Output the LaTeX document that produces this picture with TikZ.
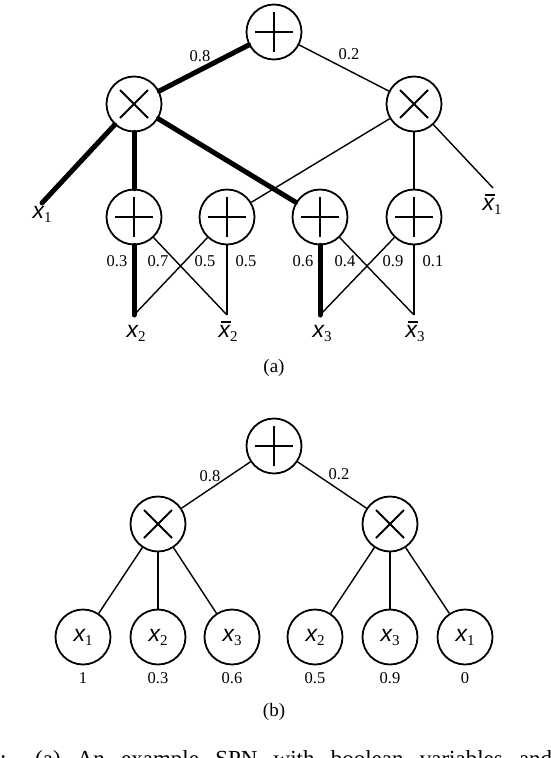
\documentclass[tikz,border=0pt]{standalone}
\usepackage{fontspec}
\setmainfont{Liberation Serif}
\newfontfamily\varfont{Liberation Sans}

\newcommand{\lit}[1]{{\varfont\itshape x}\raisebox{-4pt}{\fontsize{15}{15}\selectfont #1}}
\newcommand{\nlit}[1]{{\varfont\itshape\makebox[0pt][l]{\hspace{2.5pt}\rule[14.5pt]{10pt}{1.8pt}}x}\raisebox{-4pt}{\fontsize{15}{15}\selectfont #1}}

\tikzset{
    op/.style={circle, draw, line width=1.8pt, inner sep=0pt, minimum size=55pt},
    sumnode/.style={op, path picture={
        \draw[line width=1.8pt] ([xshift=-19pt]path picture bounding box.center) -- ([xshift=19pt]path picture bounding box.center)
            ([yshift=-20pt]path picture bounding box.center) -- ([yshift=20pt]path picture bounding box.center);}},
    prodnode/.style={op, path picture={
        \draw[line width=1.8pt] ([shift={(-14pt,-14pt)}]path picture bounding box.center) -- ([shift={(14pt,14pt)}]path picture bounding box.center)
            ([shift={(-14pt,14pt)}]path picture bounding box.center) -- ([shift={(14pt,-14pt)}]path picture bounding box.center);}},
    leafnode/.style={op, font=\fontsize{23}{23}\selectfont},
    litlabel/.style={inner sep=0pt, anchor=north, font=\fontsize{23}{23}\selectfont},
    wt/.style={inner sep=0pt, font=\fontsize{16.5}{16.5}\selectfont},
    sublabel/.style={inner sep=0pt, font=\fontsize{19}{19}\selectfont},
    light/.style={line width=1.4pt},
    heavy/.style={line width=5pt, line cap=round}
}

\begin{document}
\begin{tikzpicture}[x=1pt,y=-1pt]
\useasboundingbox (0,0) rectangle (550,758);

% (a)
\node[sumnode] (a0) at (274,32) {};
\node[prodnode] (ap1) at (134,104) {};
\node[prodnode] (ap2) at (414,104) {};
\node[sumnode] (as1) at (134,217) {};
\node[sumnode] (as2) at (227,217) {};
\node[sumnode] (as3) at (320,217) {};
\node[sumnode] (as4) at (414,217) {};

\coordinate (ax1) at (42,203);
\coordinate (anx1) at (493,188);
\coordinate (ax2) at (134,315);
\coordinate (anx2) at (227,315);
\coordinate (ax3) at (320,315);
\coordinate (anx3) at (414,315);

\node[litlabel] (lx1) at (42,206) {\lit{1}};
\node[litlabel] (lnx1) at (492,194) {\nlit{1}};
\node[litlabel] (lx2) at (136,325) {\lit{2}};
\node[litlabel] (lnx2) at (228,321) {\nlit{2}};
\node[litlabel] (lx3) at (322,325) {\lit{3}};
\node[litlabel] (lnx3) at (415,321) {\nlit{3}};

\draw[heavy] (a0) -- (ap1);
\draw[light] (a0) -- (ap2);
\draw[heavy] (ap1) -- (ax1);
\draw[heavy] (ap1) -- (as1);
\draw[heavy] (ap1) -- (as3);
\draw[light] (ap2) -- (as2);
\draw[light] (ap2) -- (as4);
\draw[light] (ap2) -- (anx1);
\draw[heavy] (as1) -- (ax2);
\draw[light] (as1) -- (anx2);
\draw[light] (as2) -- (ax2);
\draw[light] (as2) -- (anx2);
\draw[heavy] (as3) -- (ax3);
\draw[light] (as3) -- (anx3);
\draw[light] (as4) -- (ax3);
\draw[light] (as4) -- (anx3);

\node[wt] (aw1) at (200,56) {0.8};
\node[wt] (aw2) at (349,54) {0.2};
\node[wt] (aw3) at (117,261) {0.3};
\node[wt] (aw4) at (158,261) {0.7};
\node[wt] (aw5) at (205,261) {0.5};
\node[wt] (aw6) at (246,261) {0.5};
\node[wt] (aw7) at (303,261) {0.6};
\node[wt] (aw8) at (345,261) {0.4};
\node[wt] (aw9) at (393,261) {0.9};
\node[wt] (aw10) at (433,261) {0.1};

\node[sublabel] (capa) at (274,368) {(a)};

% (b)
\node[sumnode] (b0) at (274,446) {};
\node[prodnode] (bp1) at (158,524) {};
\node[prodnode] (bp2) at (390,524) {};
\node[leafnode] (bl1) at (83,637) {\lit{1}};
\node[leafnode] (bl2) at (158,637) {\lit{2}};
\node[leafnode] (bl3) at (232,637) {\lit{3}};
\node[leafnode] (bl4) at (315,637) {\lit{2}};
\node[leafnode] (bl5) at (390,637) {\lit{3}};
\node[leafnode] (bl6) at (465,637) {\lit{1}};

\draw[light] (b0) -- (bp1);
\draw[light] (b0) -- (bp2);
\foreach \i in {1,2,3} \draw[light] (bp1) -- (bl\i);
\foreach \i in {4,5,6} \draw[light] (bp2) -- (bl\i);

\node[wt] (bw1) at (210,476) {0.8};
\node[wt] (bw2) at (339,474) {0.2};
\node[wt] (bv1) at (83,678) {1};
\node[wt] (bv2) at (158,678) {0.3};
\node[wt] (bv3) at (232,678) {0.6};
\node[wt] (bv4) at (315,678) {0.5};
\node[wt] (bv5) at (390,678) {0.9};
\node[wt] (bv6) at (465,678) {0};

\node[sublabel] (capb) at (274,712) {(b)};

\node[inner sep=0pt, anchor=north west, font=\fontsize{23}{23}\selectfont] (capt) at (0,750) {\makebox[552pt][s]{: (a) An example SPN with boolean variables and}};
\end{tikzpicture}
\end{document}
